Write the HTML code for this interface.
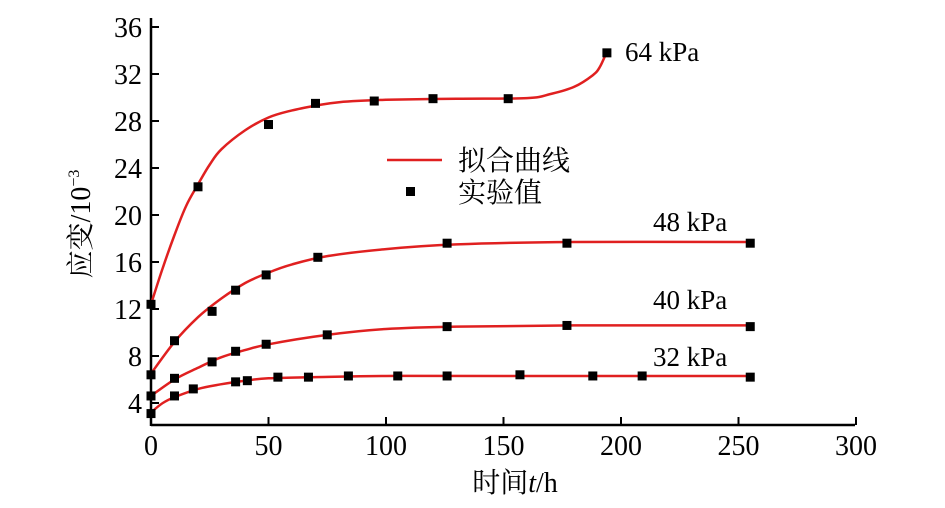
<!DOCTYPE html>
<html><head><meta charset="utf-8"><style>
body{margin:0;background:#fff}
svg text{font-family:"Liberation Serif","Noto Serif CJK SC",serif;fill:#000}
</style></head><body>
<svg width="945" height="503" viewBox="0 0 945 503">
<g id="axes"></g>
<g id="curves"></g>
<g id="pts"></g>
<g>
<line x1="387" y1="160" x2="442" y2="160" stroke="#e02020" stroke-width="2.5"/>
<text x="458" y="170" font-size="28">拟合曲线</text>
<rect x="406" y="187" width="9" height="9" fill="#000"/>
<text x="458" y="202" font-size="28">实验值</text>
</g>
<text x="90" y="224" font-size="28" text-anchor="middle" transform="rotate(-90 90 224)">应变/10<tspan font-size="16" dy="-11">−3</tspan></text>
<text x="515" y="492" font-size="28" text-anchor="middle">时间<tspan font-style="italic">t</tspan>/h</text>
</svg>
<script>
const xTicks=[0,50,100,150,200,250,300];
const yTicks=[4,8,12,16,20,24,28,32,36];
const seriesLabels=["32 kPa","40 kPa","48 kPa","64 kPa"];
const labelPos=[[653,366],[653,309],[653,231],[625,61]];
const t32=[0,10,18,36,41,54,67,84,105,126,157,188,209,255];
const v32=[3.1,4.6,5.2,5.8,5.9,6.2,6.2,6.3,6.3,6.3,6.4,6.3,6.3,6.2];
const t40=[0,10,26,36,49,75,126,177,255];
const v40=[4.6,6.1,7.5,8.4,9.0,9.8,10.5,10.6,10.5];
const t48=[0,10,26,36,49,71,126,177,255];
const v48=[6.4,9.3,11.8,13.6,14.9,16.4,17.6,17.6,17.6];
const t64=[0,20,50,70,95,120,152,194];
const v64=[12.4,22.4,27.7,29.5,29.7,29.9,29.9,33.8];
const ft32=[0,5,10,20,30,40,50,70,100,150,255];
const fv32=[3.2,4.0,4.5,5.2,5.6,5.9,6.1,6.2,6.3,6.3,6.3];
const ft40=[0,10,20,30,40,50,75,100,130,180,255];
const fv40=[4.6,6.0,7.0,7.9,8.5,9.0,9.8,10.3,10.5,10.6,10.6];
const ft48=[0,10,20,30,40,50,60,75,100,130,180,255];
const fv48=[6.5,9.2,11.3,12.9,14.2,15.1,15.8,16.5,17.1,17.5,17.7,17.7];
const ft64=[0,5,10,15,20,25,30,40,50,60,70,80,100,130,160,170,180,188,191,194];
const fv64=[12.4,15.5,18.3,20.8,22.6,24.3,25.6,27.2,28.3,28.9,29.3,29.6,29.8,29.9,29.95,30.3,30.9,31.9,32.6,33.9];
const X=t=>151+t*2.35;
const Y=v=>403-(v-4)*11.75;
const NS="http://www.w3.org/2000/svg";
function mk(tag,attrs,parent){const e=document.createElementNS(NS,tag);for(const k in attrs)e.setAttribute(k,attrs[k]);parent.appendChild(e);return e;}
const ax=document.getElementById('axes');
let l=mk('line',{x1:151,y1:425,x2:855,y2:425,stroke:'#000','stroke-width':2.5},ax);


l=mk('line',{x1:151,y1:18,x2:151,y2:426,stroke:'#000','stroke-width':2.5},ax);


xTicks.forEach(t=>{
 const tk=mk('line',{x1:X(t),y1:425,x2:X(t),y2:417,stroke:'#000','stroke-width':2},ax);
 
 
 const tx=mk('text',{x:X(t),y:455,'font-size':28,'text-anchor':'middle'},ax);tx.textContent=t;
 
 
});
yTicks.forEach(v=>{
 const tk=mk('line',{x1:151,y1:Y(v),x2:159,y2:Y(v),stroke:'#000','stroke-width':2},ax);
 
 
 const tx=mk('text',{x:142,y:Y(v)+10,'font-size':28,'text-anchor':'end'},ax);tx.textContent=v;
 
 
});
const cg=document.getElementById('curves'),pg=document.getElementById('pts');
function curve(ts,vs,name){
 const P=ts.map((t,i)=>[X(t),Y(vs[i])]);
 let d='M'+P[0][0].toFixed(1)+','+P[0][1].toFixed(1);
 for(let i=0;i<P.length-1;i++){
  const p0=P[i-1]||P[i],p1=P[i],p2=P[i+1],p3=P[i+2]||P[i+1];
  const c1=[p1[0]+(p2[0]-p0[0])/6,p1[1]+(p2[1]-p0[1])/6];
  const c2=[p2[0]-(p3[0]-p1[0])/6,p2[1]-(p3[1]-p1[1])/6];
  d+='C'+c1.map(n=>n.toFixed(1)).join(',')+' '+c2.map(n=>n.toFixed(1)).join(',')+' '+p2.map(n=>n.toFixed(1)).join(',');
 }
 const p=mk('path',{d:d,fill:'none',stroke:'#e02020','stroke-width':2.5,'stroke-linejoin':'round'},cg);
 
 
}
function pts(ts,vs,name){
 ts.forEach((t,i)=>{const r=mk('rect',{x:X(t)-4.5,y:Y(vs[i])-4.5,width:9,height:9,fill:'#000'},pg);
 
 });
}
curve(ft32,fv32,'fit-curve-32kpa');curve(ft40,fv40,'fit-curve-40kpa');curve(ft48,fv48,'fit-curve-48kpa');curve(ft64,fv64,'fit-curve-64kpa');
pts(t32,v32,'point-32kpa');pts(t40,v40,'point-40kpa');pts(t48,v48,'point-48kpa');pts(t64,v64,'point-64kpa');
seriesLabels.forEach((s,i)=>{const tx=mk('text',{x:labelPos[i][0],y:labelPos[i][1],'font-size':27},pg);tx.textContent=s;
 
 });
</script>
</body></html>
